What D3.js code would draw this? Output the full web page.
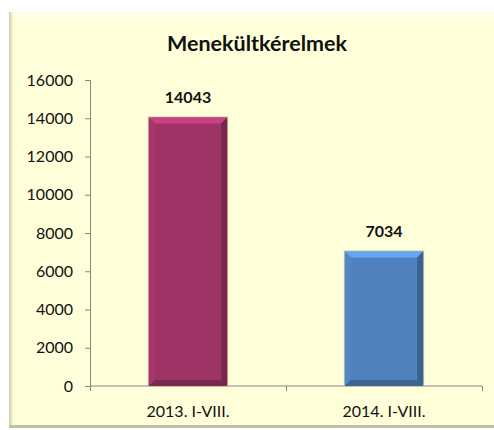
<!DOCTYPE html>
<html>
<head>
<meta charset="utf-8">
<script src="https://cdn.jsdelivr.net/npm/d3@7"></script>
<style>
  html, body { margin: 0; padding: 0; background: #ffffff; }
  svg { display: block; }
  text { font-family: Lato, "Open Sans", sans-serif; fill: #111; }
</style>
</head>
<body>
<svg id="chart" width="494" height="430"></svg>
<script>
// Asylum applications, January–August of each year
const categories = ["2013. I-VIII.", "2014. I-VIII."];
const values = [14043, 7034];
const barColors = ["#9e3366", "#4f81bd"];
const yTicks = [0, 2000, 4000, 6000, 8000, 10000, 12000, 14000, 16000];
const title = "Menekültkérelmek";

const svg = d3.select("#chart");
const W = 494, H = 430;

// chart frame
const frame = { x: 9, y: 12, w: W - 9, h: 416 };
const defs = svg.append("defs");

const leftEdge = defs.append("linearGradient").attr("id", "leftEdge")
  .attr("x1", 0).attr("x2", 1).attr("y1", 0).attr("y2", 0);
leftEdge.append("stop").attr("offset", "0%").attr("stop-color", "#c9cba8");
leftEdge.append("stop").attr("offset", "100%").attr("stop-color", "#fbfbd6");

svg.append("rect")
  .attr("x", frame.x).attr("y", frame.y)
  .attr("width", frame.w).attr("height", frame.h)
  .attr("fill", "#ffffda");
// bevelled frame edges
svg.append("rect").attr("x", frame.x).attr("y", frame.y)
  .attr("width", 4).attr("height", frame.h).attr("fill", "url(#leftEdge)");
svg.append("rect").attr("x", frame.x + 4).attr("y", frame.y + 2)
  .attr("width", frame.w - 4).attr("height", 3).attr("fill", "#ffffff").attr("opacity", 0.85);
svg.append("rect").attr("x", frame.x).attr("y", frame.y + frame.h - 3)
  .attr("width", frame.w).attr("height", 3).attr("fill", "#bfbfa6");

// title
svg.append("text")
  .attr("x", 257).attr("y", 51)
  .attr("text-anchor", "middle")
  .style("font-weight", "bold").style("font-size", "21.5px")
  .text(title);

// scales
const plot = { left: 90, right: 482, top: 80, bottom: 386 };
const y = d3.scaleLinear().domain([0, 16000]).range([plot.bottom, plot.top]);
const x = d3.scaleBand().domain(categories).range([plot.left, plot.right])
  .paddingInner(0).paddingOuter(0);
const barW = x.bandwidth() * 0.4;

// y axis
const yAxis = svg.append("g")
  .attr("transform", `translate(${plot.left},0)`)
  .call(d3.axisLeft(y).tickValues(yTicks).tickSize(5).tickPadding(12).tickFormat(d3.format("d")));
yAxis.selectAll("path, line").attr("stroke", "#868686");
yAxis.selectAll("text").style("font-size", "16px").attr("fill", "#111")
  .style("font-family", "Lato, 'Open Sans', sans-serif");

// x axis with ticks at band boundaries
const xAxis = svg.append("g")
  .attr("transform", `translate(0,${plot.bottom})`);
xAxis.append("line")
  .attr("x1", plot.left).attr("x2", plot.right)
  .attr("stroke", "#868686");
const bounds = [plot.left].concat(categories.map(c => x(c) + x.bandwidth()));
xAxis.selectAll("line.tick").data(bounds).join("line")
  .attr("class", "tick")
  .attr("x1", d => d + 0.5).attr("x2", d => d + 0.5)
  .attr("y1", 0).attr("y2", 5)
  .attr("stroke", "#868686");
xAxis.selectAll("text").data(categories).join("text")
  .attr("x", d => x(d) + x.bandwidth() / 2)
  .attr("y", 31)
  .attr("text-anchor", "middle")
  .style("font-size", "16px")
  .text(d => d);

// bevelled bars
const bev = 6;
const bars = svg.append("g");
categories.forEach((c, i) => {
  const v = values[i];
  const x0 = x(c) + (x.bandwidth() - barW) / 2;
  const x1 = x0 + barW;
  const y0 = y(v), y1 = y(0);
  const base = d3.color(barColors[i]);
  const g = bars.append("g");
  // soft outline
  g.append("rect").attr("x", x0 - 1).attr("y", y0 - 1)
    .attr("width", barW + 2).attr("height", y1 - y0 + 1)
    .attr("fill", "#d8d4b4");
  g.append("rect").attr("x", x0).attr("y", y0)
    .attr("width", barW).attr("height", y1 - y0)
    .attr("fill", base.formatHex());
  const poly = (pts, col) => g.append("polygon")
    .attr("points", pts.map(p => p.join(",")).join(" "))
    .attr("fill", col);
  // top facet
  poly([[x0, y0], [x1, y0], [x1 - bev, y0 + bev], [x0 + bev, y0 + bev]], base.brighter(0.7).formatHex());
  // left facet
  poly([[x0, y0], [x0 + bev, y0 + bev], [x0 + bev, y1 - bev], [x0, y1]], base.brighter(0.15).formatHex());
  // right facet
  poly([[x1, y0], [x1, y1], [x1 - bev, y1 - bev], [x1 - bev, y0 + bev]], base.darker(0.8).formatHex());
  // bottom facet
  poly([[x0, y1], [x0 + bev, y1 - bev], [x1 - bev, y1 - bev], [x1, y1]], base.darker(0.7).formatHex());

  // value label
  svg.append("text")
    .attr("x", x0 + barW / 2).attr("y", y0 - 14)
    .attr("text-anchor", "middle")
    .style("font-weight", "bold").style("font-size", "16px")
    .text(v);
});
</script>
</body>
</html>
